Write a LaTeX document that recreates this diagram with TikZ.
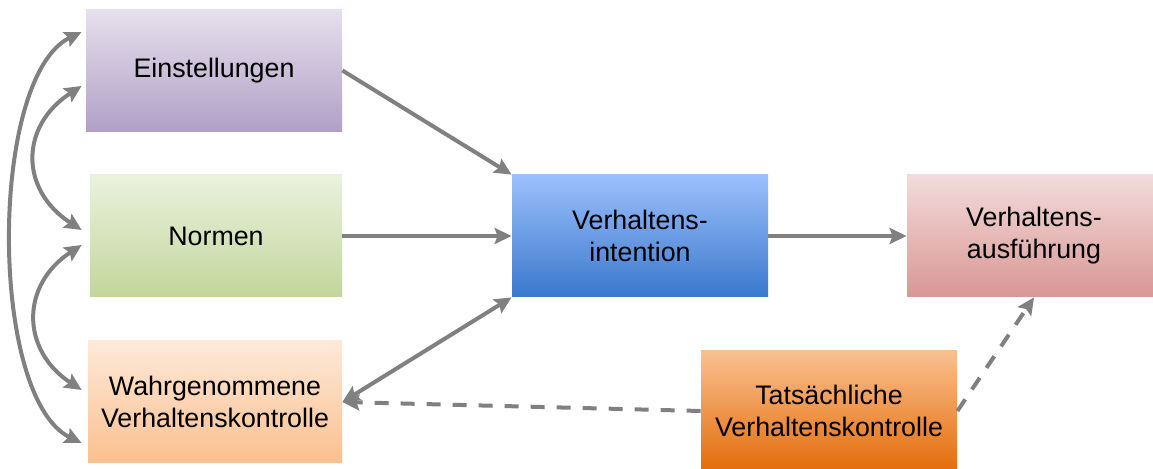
\documentclass[tikz,border=0pt]{standalone}
\usepackage{xcolor}
\usepackage{fontspec}
\setmainfont{Liberation Sans}
\usepackage{tikz}
\usetikzlibrary{arrows.meta}

\definecolor{pfeilgrau}{HTML}{808080}
\definecolor{einoben}{HTML}{E6E0EC}
\definecolor{einunten}{HTML}{B1A0C7}
\definecolor{noroben}{HTML}{EBF1DE}
\definecolor{norunten}{HTML}{C2D69B}
\definecolor{wahroben}{HTML}{FDE9D9}
\definecolor{wahrunten}{HTML}{FAC08F}
\definecolor{intoben}{HTML}{9CC0FC}
\definecolor{intunten}{HTML}{3A78CC}
\definecolor{ausfoben}{HTML}{F2DCDB}
\definecolor{ausfunten}{HTML}{D99694}
\definecolor{tatsoben}{HTML}{FAC08F}
\definecolor{tatsunten}{HTML}{E36C09}

\begin{document}
\begin{tikzpicture}[x=0.5pt,y=0.5pt]
\tikzstyle{every node}+=[inner sep=0pt]
\tikzstyle{kasten}=[rectangle, minimum height=61pt, align=center, font=\fontsize{13.4}{16}\selectfont]
\tikzstyle{pfeil}=[draw=pfeilgrau, line width=2pt, -{Stealth[length=8.5pt,width=8pt,inset=1.5pt]}]
\tikzstyle{doppelpfeil}=[draw=pfeilgrau, line width=2pt, {Stealth[length=8.5pt,width=8pt,inset=1.5pt]}-{Stealth[length=8.5pt,width=8pt,inset=1.5pt]}]
\tikzstyle{gestrichelt}=[pfeil, dash pattern=on 7pt off 6pt]
\useasboundingbox (0,0) rectangle (1153,-469);
\node [kasten, minimum width=128pt, top color=einoben, bottom color=einunten] (ein) at (214,-70.5) {Einstellungen};
\node [kasten, minimum width=126pt, top color=noroben, bottom color=norunten] (nor) at (216,-236) {Normen};
\node [kasten, minimum width=127pt, top color=wahroben, bottom color=wahrunten] (wahr) at (215,-402) {Wahrgenommene\\Verhaltenskontrolle};
\node [kasten, minimum width=128pt, top color=intoben, bottom color=intunten] (int) at (640,-236) {Verhaltens-\\intention};
\node [kasten, minimum width=127pt, top color=ausfoben, bottom color=ausfunten] (ausf) at (1034,-236) {Verhaltens-\\ausführung};
\node [kasten, minimum width=128pt, minimum height=60pt, top color=tatsoben, bottom color=tatsunten] (tats) at (829,-411) {Tatsächliche\\Verhaltenskontrolle};
\draw [doppelpfeil] ([xshift=-2pt,yshift=19.25pt]ein.west) .. controls +(-93,-45) and +(-93,45) .. ([xshift=-3pt,yshift=-20.5pt]wahr.west);
\draw [doppelpfeil] ([xshift=-2pt,yshift=-7.75pt]ein.west) .. controls +(-62,-40) and +(-62,40) .. ([xshift=-4pt,yshift=3pt]nor.west);
\draw [doppelpfeil] ([xshift=-4pt,yshift=-4.5pt]nor.west) .. controls +(-61,-40) and +(-61,40) .. ([xshift=-3pt,yshift=6pt]wahr.west);
\draw [pfeil] (ein.east) -- (int.north west);
\draw [pfeil] (nor.east) -- (int.west);
\draw [doppelpfeil] (wahr.east) -- (int.south west);
\draw [pfeil] (int.east) -- (ausf.west);
\draw [gestrichelt] (tats.west) -- (wahr.east);
\draw [gestrichelt] (tats.east) -- (ausf.south);
\end{tikzpicture}
\end{document}
